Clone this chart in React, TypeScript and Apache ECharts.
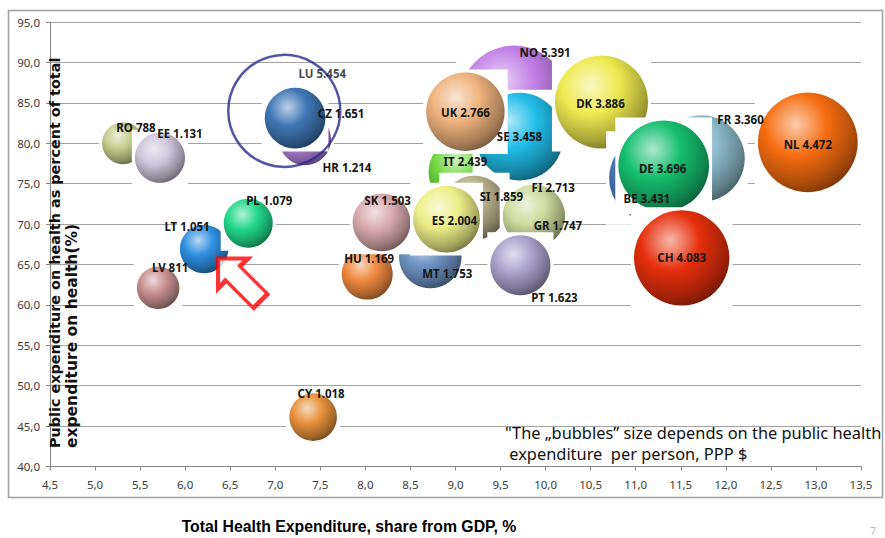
import React, { useEffect, useRef } from "react";
import * as echarts from "echarts";

// ---- data ----
const countries = ["FI", "NO", "IT", "SE", "UK", "RO", "EE", "HR", "CZ", "LT", "PL", "LV", "CY", "MT", "HU", "SK", "SI", "ES", "GR", "PT", "DK", "BE", "FR", "DE", "CH", "NL"];
// Total health expenditure, share of GDP, %
const healthShareGDP = [9.73, 9.65, 9.11, 9.71, 9.11, 5.31, 5.72, 7.33, 7.22, 6.21, 6.70, 5.70, 7.42, 8.72, 8.02, 8.18, 9.21, 8.90, 9.87, 9.72, 10.62, 11.19, 11.73, 11.31, 11.51, 12.91];
// Public expenditure on health as % of total expenditure on health
const publicShare = [79.0, 85.3, 76.4, 80.8, 83.9, 80.0, 78.2, 80.5, 83.1, 66.9, 70.1, 62.1, 46.1, 65.9, 63.8, 70.2, 72.0, 70.6, 71.0, 64.9, 85.1, 75.7, 78.1, 77.2, 65.8, 80.1];
// Public health expenditure per person, PPP $
const spendPerPerson = [2713, 5391, 2439, 3458, 2766, 788, 1131, 1214, 1651, 1051, 1079, 811, 1018, 1753, 1169, 1503, 1859, 2004, 1747, 1623, 3886, 3431, 3360, 3696, 4083, 4472];

const luCountry = "LU";
const luShareGDP = 7.10;
const luPublicShare = 84.0;
const luSpend = 5454;

const arrowShareGDP = 6.60;
const arrowPublicShare = 63.1;

const xTicks = { min: 4.5, max: 13.5, step: 0.5 };
const yTicks = { min: 40, max: 95, step: 5 };

// ---- styles ----
const palette: Record<string, string> = {
  RO: "#c5cd8c", EE: "#cdc5dc", PL: "#22d98a", LT: "#2f8fe0", LV: "#c89090", CY: "#e8923e",
  HU: "#f08a40", MT: "#6f95c5", SK: "#d9aaad", ES: "#eeee88", SI: "#b7ae88", GR: "#cddc9e",
  PT: "#aaa2cc", IT: "#6fd641", UK: "#eeb27c", SE: "#20bde9", NO: "#c07ee6", DK: "#eeea50",
  DE: "#15bf6e", BE: "#4a77b6", FR: "#8dbccb", NL: "#f66d10", CH: "#e62f0c", CZ: "#3f77b6",
  HR: "#b584df", FI: "#8a5a5a",
};
const labelOffset: Record<string, [number, number]> = {
  RO: [13, -16], EE: [20, -24], PL: [21, -23], LT: [-17, -23], LV: [12, -20], CY: [8, -24],
  HU: [2, -16], MT: [17, 16], SK: [6, -22], ES: [8, 1], SI: [27, -11], GR: [24, 10],
  PT: [34, 32], IT: [0, -11], UK: [0, 1], SE: [0, 0], NO: [31, -48], DK: [-1, 2],
  DE: [-1, 3], BE: [-6, 21], FR: [39, -39], NL: [0, 2], CH: [0, 0], CZ: [46, -5],
  HR: [42, 28], FI: [32, 36],
};
const luLabelOffset: [number, number] = [38, -37];
const BUBBLE_K = 23.6; // px radius per sqrt(thousand $)
const BOX_PAD = 3;
const ARROW_PATH = "path://M21 0 L42 21 L31 21 L31 60 L11 60 L11 21 L0 21 Z";

const fmtSpend = (v: number) =>
  v >= 1000 ? `${Math.floor(v / 1000)}.${String(v % 1000).padStart(3, "0")}` : `${v}`;
const fmtTick = (v: number) => v.toFixed(1).replace(".", ",");

function mix(hex: string, target: number, t: number) {
  const n = parseInt(hex.slice(1), 16);
  const ch = [(n >> 16) & 255, (n >> 8) & 255, n & 255].map((c) => Math.round(c + (target - c) * t));
  return `rgb(${ch[0]},${ch[1]},${ch[2]})`;
}

const LABEL_FONT = '"Noto Sans", sans-serif';

export default function App() {
  const ref = useRef<HTMLDivElement>(null);
  useEffect(() => {
    if (!ref.current) return;
    const chart = echarts.init(ref.current, undefined, { renderer: "svg" });
    const data = countries.map((c, i) => [healthShareGDP[i], publicShare[i], spendPerPerson[i]]);
    const option: any = {
      animation: false,
      backgroundColor: "#ffffff",
      grid: { left: 50, right: 24, top: 22, bottom: 71.6 },
      xAxis: {
        type: "value",
        min: xTicks.min,
        max: xTicks.max,
        interval: xTicks.step,
        axisLine: { show: true, lineStyle: { color: "#868686", width: 1 } },
        axisTick: { show: true, length: 4, lineStyle: { color: "#868686" } },
        axisLabel: { formatter: fmtTick, color: "#3a3a3a", fontSize: 11.5, margin: 12, fontFamily: LABEL_FONT },
        splitLine: { show: false },
      },
      yAxis: {
        type: "value",
        min: yTicks.min,
        max: yTicks.max,
        interval: yTicks.step,
        axisLine: { show: true, lineStyle: { color: "#868686", width: 1 } },
        axisTick: { show: true, length: 4, lineStyle: { color: "#868686" } },
        axisLabel: { formatter: fmtTick, color: "#3a3a3a", fontSize: 11.5, margin: 10, fontFamily: LABEL_FONT },
        splitLine: { show: true, lineStyle: { color: "#a3a3a3", width: 1.2 } },
      },
      series: [
        {
          type: "custom",
          z: 2,
          clip: false,
          encode: { x: 0, y: 1 },
          data,
          renderItem: (params: any, api: any) => {
            const idx = params.dataIndex;
            const code = countries[idx];
            const [cx, cy] = api.coord([api.value(0), api.value(1)]);
            const r = BUBBLE_K * Math.sqrt(api.value(2) / 1000);
            const base = palette[code];
            const [dx, dy] = labelOffset[code];
            const grad = new echarts.graphic.RadialGradient(0.38, 0.32, 0.74, [
              { offset: 0, color: mix(base, 255, 0.66) },
              { offset: 0.42, color: base },
              { offset: 0.8, color: mix(base, 0, 0.3) },
              { offset: 1, color: mix(base, 0, 0.52) },
            ]);
            return {
              type: "group",
              children: [
                {
                  type: "rect",
                  shape: { x: cx - r - BOX_PAD, y: cy - r - BOX_PAD, width: 2 * (r + BOX_PAD), height: 2 * (r + BOX_PAD) },
                  style: { fill: "#ffffff" },
                },
                { type: "circle", shape: { cx, cy, r }, style: { fill: grad } },
                {
                  type: "text",
                  z2: 100,
                  x: cx + dx,
                  y: cy + dy,
                  style: {
                    text: `${code} ${fmtSpend(api.value(2))}`,
                    fill: "#151515",
                    font: `bold 11.5px ${LABEL_FONT}`,
                    align: "center",
                    verticalAlign: "middle",
                  },
                },
              ],
            };
          },
        },
        {
          type: "scatter",
          z: 3,
          data: [[luShareGDP, luPublicShare, luSpend]],
          symbol: "circle",
          symbolSize: 112,
          itemStyle: { color: "rgba(0,0,0,0)", borderColor: "#2b2b8f", borderWidth: 2.5 },
          label: {
            show: true,
            position: "inside",
            offset: luLabelOffset,
            formatter: () => `${luCountry} ${fmtSpend(luSpend)}`,
            color: "#151515",
            fontSize: 11.5,
            fontWeight: "bold",
            fontFamily: LABEL_FONT,
          },
          emphasis: { disabled: true },
        },
        {
          type: "scatter",
          z: 3,
          data: [[arrowShareGDP, arrowPublicShare]],
          symbol: ARROW_PATH,
          symbolSize: [42, 60],
          symbolRotate: 45,
          itemStyle: { color: "#ffffff", borderColor: "#ff0000", borderWidth: 4 },
          emphasis: { disabled: true },
        },
      ],
      graphic: [
        {
          type: "rect",
          z: -1,
          shape: { x: 8.5, y: 10.5, width: 874, height: 487 },
          style: { fill: "none", stroke: "#a0a0a0", lineWidth: 1.5 },
        },
        {
          type: "text",
          z: 10,
          x: 55,
          y: 448,
          rotation: Math.PI / 2,
          style: {
            text: "Public expenditure on health as percent of total",
            font: 'bold 14.4px "DejaVu Sans", sans-serif',
            fill: "#111",
            align: "left",
            verticalAlign: "middle",
          },
        },
        {
          type: "text",
          z: 10,
          x: 72,
          y: 448,
          rotation: Math.PI / 2,
          style: {
            text: "expenditure on health(%)",
            font: '600 15.5px "DejaVu Sans", sans-serif',
            fill: "#111",
            align: "left",
            verticalAlign: "middle",
          },
        },
        {
          type: "text",
          x: 349,
          y: 526,
          style: {
            text: "Total Health Expenditure, share from GDP, %",
            font: 'bold 15.8px "Liberation Sans", Arial, sans-serif',
            fill: "#000",
            align: "center",
            verticalAlign: "middle",
          },
        },
        {
          type: "text",
          z: 10,
          x: 505,
          y: 432,
          style: {
            text: "\"The \u201Ebubbles\u201D size depends on the public health",
            font: '16.4px "Noto Sans", sans-serif',
            fill: "#111",
            align: "left",
            verticalAlign: "middle",
          },
        },
        {
          type: "text",
          z: 10,
          x: 505,
          y: 453,
          style: {
            text: " expenditure  per person, PPP $",
            font: '16.4px "Noto Sans", sans-serif',
            fill: "#111",
            align: "left",
            verticalAlign: "middle",
          },
        },
        {
          type: "text",
          x: 873,
          y: 526,
          style: { text: "7", font: '10px "Noto Sans", sans-serif', fill: "#b8b8b8", align: "center", verticalAlign: "top" },
        },
      ],
    };
    chart.setOption(option);
    return () => chart.dispose();
  }, []);
  return (
    <div
      ref={ref}
      style={{ position: "fixed", left: 0, top: 0, width: 885, height: 538, background: "#fff" }}
    />
  );
}
